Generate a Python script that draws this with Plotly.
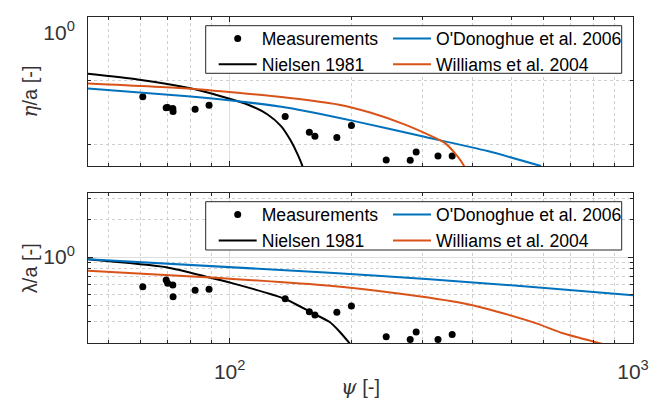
import plotly.graph_objects as go

# ---------------- data ----------------
psi_meas = [60.9, 69.6, 70.2, 72.3, 72.4, 82.1, 88.9, 137.3, 157.6, 162.7,
            184.4, 200.4, 244.4, 280.3, 290.0, 328.5, 356.2]
eta_meas = [0.0562, 0.0379, 0.0383, 0.0369, 0.0331, 0.0360, 0.0416, 0.0277,
            0.0157, 0.0136, 0.0130, 0.0200, 0.00574, 0.00568, 0.00766,
            0.00664, 0.00664]
lam_meas = [0.574, 0.650, 0.611, 0.592, 0.476, 0.536, 0.546, 0.458, 0.359,
            0.338, 0.355, 0.400, 0.225, 0.214, 0.246, 0.214, 0.234]

psi_nielsen_eta = [44.55, 59.15, 78.7, 95.1, 110.8, 124.2, 134.1, 141.9, 147.4, 151.7, 153.5]
eta_nielsen = [0.1287, 0.1048, 0.0777, 0.0575, 0.0426, 0.0297, 0.0195, 0.01138, 0.00705, 0.0045, 0.003]

psi_williams_eta = [44.55, 78.7, 104.7, 139.2, 185.3, 224.0, 271.2, 309.7, 340.8, 360.8, 382.0, 386.0]
eta_williams = [0.0907, 0.0758, 0.0649, 0.0543, 0.0426, 0.0316, 0.0208, 0.01449, 0.01075, 0.0075, 0.0045, 0.0036]

psi_odon_eta = [44.55, 78.7, 104.7, 139.2, 203.8, 298.1, 436.2, 591.5]
eta_odon = [0.0758, 0.0575, 0.0480, 0.0379, 0.0234, 0.01363, 0.00794, 0.00463]

psi_nielsen_lam = [44.55, 69.66, 87.5, 101.9, 136.9, 160.9, 177.0, 187.4, 198.4]
lam_nielsen = [0.958, 0.825, 0.692, 0.611, 0.458, 0.3485, 0.296, 0.247, 0.1988]

psi_williams_lam = [44.55, 87.5, 177.0, 259.0, 378.9, 476.1, 576.0, 670.6, 842.6]
lam_williams = [0.774, 0.684, 0.583, 0.507, 0.4204, 0.3485, 0.289, 0.2397, 0.196]

psi_odon_lam = [44.55, 177.0, 313.3, 554.4, 1000.0]
lam_odon = [0.958, 0.7455, 0.6589, 0.5735, 0.4883]

x_major = [100, 1000]
x_major_text = ["10<sup>2</sup>", "10<sup>3</sup>"]
x_minor = [50, 60, 70, 80, 90, 200, 300, 400, 500, 600, 700, 800, 900]

names = ["Measurements", "Nielsen 1981", "O'Donoghue et al. 2006", "Williams et al. 2004"]

# ---------------- styling ----------------
BLUE = "#0072BD"
ORANGE = "#D95319"
BLACK = "#000000"
AX = "#262626"
TXT = "#333333"
FONT = "Liberation Sans, Arial, sans-serif"
GRID = "#dedede"
MGRID = "#cfcfcf"

fig = go.Figure()


def add_panel(xa, ya, meas, curves, leg1):
    fig.add_trace(go.Scatter(x=psi_meas, y=meas, mode="markers", name=names[0],
                             marker=dict(color=BLACK, size=7), xaxis=xa, yaxis=ya,
                             legend=leg1))
    for (px, py, col, nm, lg) in curves:
        fig.add_trace(go.Scatter(x=px, y=py, mode="lines", name=nm,
                                 line=dict(color=col, width=2, shape="spline", smoothing=0.6),
                                 xaxis=xa, yaxis=ya, legend=lg))


add_panel("x", "y", eta_meas, [
    (psi_nielsen_eta, eta_nielsen, BLACK, names[1], "legend"),
    (psi_odon_eta, eta_odon, BLUE, names[2], "legend2"),
    (psi_williams_eta, eta_williams, ORANGE, names[3], "legend2"),
], "legend")

add_panel("x2", "y2", lam_meas, [
    (psi_nielsen_lam, lam_nielsen, BLACK, names[1], "legend3"),
    (psi_odon_lam, lam_odon, BLUE, names[2], "legend4"),
    (psi_williams_lam, lam_williams, ORANGE, names[3], "legend4"),
], "legend3")

# page offset of the plot div (browser body margin)
OFF = 8
W, H = 658 - OFF, 399 - OFF
# plot area in screen pixels
SL, SR, ST, SB = 88, 633, 17, 343
L, T = SL - OFF, ST - OFF
R, B = W - (SR - OFF), H - (SB - OFF)
PH = SB - ST
PW = SR - SL


def py2paper(p):
    return (SB - p) / PH


def px2paper(p):
    return (p - SL) / PW


def xaxis(show_labels, anchor):
    return dict(type="log", range=[1.6488, 3.0], anchor=anchor, automargin=False,
                tickmode="array", tickvals=x_major, ticktext=x_major_text,
                showticklabels=show_labels, ticklabeloverflow="allow",
                ticks="inside", ticklen=5, tickcolor=AX, tickwidth=1,
                showgrid=True, gridcolor=GRID, gridwidth=1,
                minor=dict(tickmode="array", tickvals=x_minor, ticks="inside",
                           ticklen=3, tickcolor=AX, showgrid=True,
                           gridcolor=MGRID, griddash="dot", gridwidth=1),
                showline=True, linecolor=AX, linewidth=1, mirror="allticks",
                zeroline=False, ticklabelstandoff=10,
                tickfont=dict(family=FONT, size=21, color=TXT))


SERIF_I = "<span style=\"font-family:'DejaVu Serif';font-style:italic\">{}</span>"

fig.update_layout(
    width=W, height=H,
    margin=dict(l=L, r=R, t=T, b=B, autoexpand=False),
    paper_bgcolor="white", plot_bgcolor="white",
    font=dict(family=FONT, size=17, color=TXT),
    xaxis=xaxis(False, "y"),
    xaxis2=dict(xaxis(True, "y2"),
                title=dict(text=SERIF_I.format("ψ") + " [-]",
                           font=dict(family=FONT, size=20, color=TXT), standoff=5)),
    yaxis=dict(type="log", domain=[py2paper(166), 1.0], range=[-2.334, 0.0001], anchor="x",
               automargin=False, ticklabeloverflow="allow", ticklabelposition="outside bottom",
               tickmode="array", tickvals=[1.0], ticktext=["10<sup>0</sup>"],
               ticks="inside", ticklen=5, tickcolor=AX,
               showgrid=True, gridcolor=GRID,
               minor=dict(tickmode="array", tickvals=[0.01, 0.1], ticks="inside",
                          ticklen=3, tickcolor=AX, showgrid=True, gridcolor=MGRID,
                          griddash="dot"),
               showline=True, linecolor=AX, linewidth=1, mirror="allticks",
               zeroline=False, ticklabelstandoff=8,
               tickfont=dict(family=FONT, size=21, color=TXT),
               title=dict(text=SERIF_I.format("η") + "/a [-]",
                          font=dict(family=FONT, size=20, color=TXT), standoff=0)),
    yaxis2=dict(type="log", domain=[0.0, py2paper(193.3)], range=[-0.699, 0.518], anchor="x2",
                automargin=False, ticklabeloverflow="allow",
                tickmode="array", tickvals=[1.0], ticktext=["10<sup>0</sup>"],
                ticks="inside", ticklen=5, tickcolor=AX,
                showgrid=True, gridcolor=GRID,
                minor=dict(tickmode="array", tickvals=[0.2, 0.3, 0.4, 0.5, 0.6, 0.7, 0.8, 0.9, 2, 3],
                           ticks="inside", ticklen=3, tickcolor=AX, showgrid=True,
                           gridcolor=MGRID, griddash="dot"),
                showline=True, linecolor=AX, linewidth=1, mirror="allticks",
                zeroline=False, ticklabelstandoff=8,
                tickfont=dict(family=FONT, size=21, color=TXT),
                title=dict(text="λ/a [-]", font=dict(family=FONT, size=20, color=TXT), standoff=0)),
)

leg_common = dict(orientation="v", xanchor="left", yanchor="top", bgcolor="rgba(0,0,0,0)",
                  borderwidth=0, itemwidth=38, font=dict(family=FONT, size=17.6, color="#000000"),
                  tracegroupgap=0)
fig.update_layout(
    legend=dict(leg_common, x=px2paper(213.7), y=py2paper(20.5)),
    legend2=dict(leg_common, x=px2paper(388), y=py2paper(20.5)),
    legend3=dict(leg_common, x=px2paper(213.7), y=py2paper(196.6)),
    legend4=dict(leg_common, x=px2paper(388), y=py2paper(196.6)),
    shapes=[
        dict(type="rect", xref="paper", yref="paper", layer="above",
             x0=px2paper(205.7), x1=px2paper(621.7), y0=py2paper(73.3), y1=py2paper(25.7),
             line=dict(color=AX, width=1), fillcolor="white"),
        dict(type="rect", xref="paper", yref="paper", layer="above",
             x0=px2paper(205.7), x1=px2paper(621.7), y0=py2paper(250), y1=py2paper(201.7),
             line=dict(color=AX, width=1), fillcolor="white"),
    ],
)

fig.write_html("out.html")
